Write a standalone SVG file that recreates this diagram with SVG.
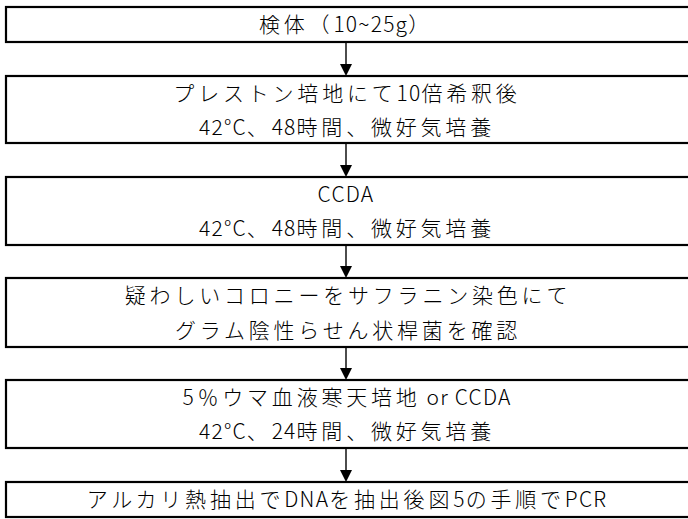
<svg xmlns="http://www.w3.org/2000/svg" width="688" height="519" viewBox="0 0 688 519">
<style>
.box{fill:#fff;stroke:#000;stroke-width:2.2}
.t{font-family:"Noto Sans CJK JP","Noto Sans",sans-serif;font-size:21px;font-weight:300;letter-spacing:3.8px;fill:#000;text-anchor:middle}
.l{letter-spacing:1.2px}
.ln{stroke:#000;stroke-width:1.4}
.hd{fill:#000}
</style>
<rect width="688" height="519" fill="#fff"/>
<g id="connectors">
<line class="ln" x1="346" y1="43" x2="346" y2="70"/>
<polygon class="hd" points="340,64 352,64 346,76"/>
<line class="ln" x1="346" y1="144" x2="346" y2="171"/>
<polygon class="hd" points="340,165 352,165 346,177"/>
<line class="ln" x1="346" y1="246" x2="346" y2="272"/>
<polygon class="hd" points="340,266 352,266 346,278"/>
<line class="ln" x1="346" y1="348" x2="346" y2="374"/>
<polygon class="hd" points="340,368 352,368 346,380"/>
<line class="ln" x1="346" y1="449" x2="346" y2="476"/>
<polygon class="hd" points="340,470 352,470 346,482"/>
</g>
<g id="n1">
<rect class="box" x="6" y="7" width="700" height="35"/>
<text class="t" x="346" y="32">検体（<tspan class="l">10~25g</tspan>）</text>
</g>
<g id="n2">
<rect class="box" x="6" y="76" width="700" height="67"/>
<text class="t" x="347" y="101">プレストン培地にて<tspan class="l">10</tspan>倍希釈後</text>
<text class="t" x="347" y="135"><tspan class="l">42°C</tspan>、<tspan class="l">48</tspan>時間、微好気培養</text>
</g>
<g id="n3">
<rect class="box" x="6" y="177" width="700" height="68"/>
<text class="t" x="346" y="202"><tspan class="l">CCDA</tspan></text>
<text class="t" x="347" y="236"><tspan class="l">42°C</tspan>、<tspan class="l">48</tspan>時間、微好気培養</text>
</g>
<g id="n4">
<rect class="box" x="6" y="278" width="700" height="69"/>
<text class="t" x="348" y="303">疑わしいコロニーをサフラニン染色にて</text>
<text class="t" x="348" y="338">グラム陰性らせん状桿菌を確認</text>
</g>
<g id="n5">
<rect class="box" x="6" y="380" width="700" height="68"/>
<text class="t" x="347" y="405">5％ウマ血液寒天培地<tspan class="l"> or CCDA</tspan></text>
<text class="t" x="347" y="439"><tspan class="l">42°C</tspan>、<tspan class="l">24</tspan>時間、微好気培養</text>
</g>
<g id="n6">
<rect class="box" x="6" y="482" width="700" height="35"/>
<text class="t" x="347" y="507">アルカリ熱抽出で<tspan class="l">DNA</tspan>を抽出後図<tspan class="l">5</tspan>の手順で<tspan class="l">PCR</tspan></text>
</g>
</svg>
